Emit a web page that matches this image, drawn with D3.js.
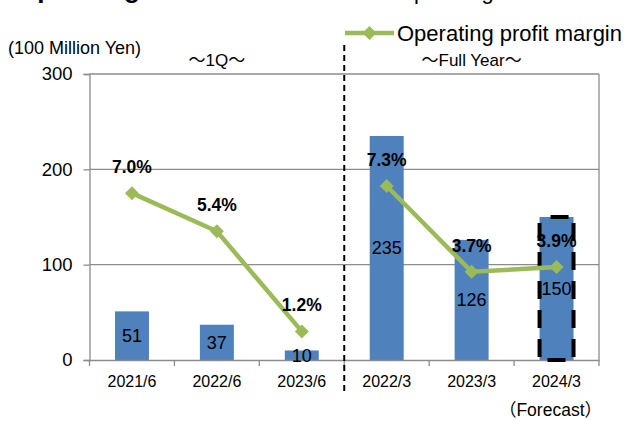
<!DOCTYPE html>
<html>
<head>
<meta charset="utf-8">
<script src="https://cdn.jsdelivr.net/npm/d3@7"></script>
<style>
  body { margin: 0; background: #fff; }
  svg { display: block; font-family: "Liberation Sans", Arial, "Noto Sans CJK JP", sans-serif; }
  .axis path, .axis line { stroke: #8c8c8c; }
  .axis text { fill: #000; }
</style>
</head>
<body>
<div id="app"></div>
<script>
'use strict'

// chart values
const categories = ['2021/6', '2022/6', '2023/6', '2022/3', '2023/3', '2024/3'];
const periods = ['1Q', '1Q', '1Q', 'FY', 'FY', 'FY'];
const income = [51, 37, 10, 235, 126, 150];
const margin = [7.0, 5.4, 1.2, 7.3, 3.7, 3.9];
const forecast = [false, false, false, false, false, true];
const yTicks = [0, 100, 200, 300];
const periodLabels = {'1Q': '～1Q～', 'FY': '～Full Year～'};

const width = 624, height = 421;
const plotL = 89.5, plotR = 599, plotT = 74, plotB = 360;
const blue = '#4f81bd', green = '#9bbb59';

let svg = d3.select('#app')
  .append('svg')
    .attr('width', width)
    .attr('height', height);

let x = d3.scaleBand()
  .domain(categories)
  .range([plotL, plotR])
  .paddingInner(0.6)
  .paddingOuter(0.3);
let y = d3.scaleLinear().domain([0, 300]).range([plotB, plotT]);
let yPct = d3.scaleLinear().domain([0, 12]).range([plotB, plotT]);
let step = x.step();
let cx = (c) => x(c) + x.bandwidth() / 2;

let rows = categories.map((c, i) => ({
  cat: c, period: periods[i], income: income[i], margin: margin[i], forecast: forecast[i]
}));

// titles cut off at the top edge (only descenders show in the reference)
svg.append('text')
  .attr('x', 17).attr('y', -2)
  .attr('style', 'font-size: 26px; font-weight: bold')
  .text('Operating Income');
svg.append('text')
  .attr('x', 397).attr('y', -1.5)
  .attr('style', 'font-size: 22px')
  .text('Operating income');

// gridlines
svg.append('g')
  .selectAll('line')
  .data(yTicks.filter((t) => t > 0))
  .enter()
    .append('line')
      .attr('x1', plotL).attr('x2', plotR)
      .attr('y1', (d) => y(d)).attr('y2', (d) => y(d))
      .attr('stroke', '#8c8c8c').attr('stroke-width', 1.3);
svg.append('line')
  .attr('x1', plotR).attr('x2', plotR)
  .attr('y1', plotT).attr('y2', plotB)
  .attr('stroke', '#8c8c8c').attr('stroke-width', 1.3);

// bars
svg.append('g')
  .selectAll('rect')
  .data(rows)
  .enter()
    .append('rect')
      .attr('x', (d) => x(d.cat))
      .attr('y', (d) => y(d.income))
      .attr('width', x.bandwidth())
      .attr('height', (d) => y(0) - y(d.income))
      .attr('fill', blue);

// y axis
let yAxis = svg.append('g')
  .attr('class', 'axis')
  .attr('transform', `translate(${plotL},0)`)
  .call(d3.axisLeft(y).tickValues(yTicks).tickSize(6).tickPadding(11));
yAxis.selectAll('text').attr('style', 'font-size: 18.5px');
yAxis.selectAll('path, line').attr('stroke-width', 1.3);

// x axis
let xAxis = svg.append('g')
  .attr('class', 'axis')
  .attr('transform', `translate(0,${plotB})`)
  .call(d3.axisBottom(x).tickSize(0).tickPadding(15.5));
xAxis.selectAll('text').attr('style', 'font-size: 16px');
xAxis.select('path').attr('stroke-width', 1.3);
let bounds = categories.map((c) => x(c) - step * 0.3).concat([plotR]);
xAxis.selectAll('.bound')
  .data(bounds)
  .enter()
    .append('line')
      .attr('class', 'bound')
      .attr('x1', (d) => d).attr('x2', (d) => d)
      .attr('y1', 0).attr('y2', 6)
      .attr('stroke', '#8c8c8c').attr('stroke-width', 1.3);

// forecast box
svg.append('g')
  .selectAll('rect')
  .data(rows.filter((d) => d.forecast))
  .enter()
    .append('rect')
      .attr('x', (d) => x(d.cat))
      .attr('y', (d) => y(d.income))
      .attr('width', x.bandwidth())
      .attr('height', (d) => y(0) - y(d.income))
      .attr('fill', 'none')
      .attr('stroke', '#000')
      .attr('stroke-width', 4)
      .attr('stroke-dasharray', '18,11')
      .attr('stroke-dashoffset', 18);

// bar value labels
svg.append('g')
  .selectAll('text')
  .data(rows)
  .enter()
    .append('text')
      .attr('x', (d) => cx(d.cat))
      .attr('y', (d) => (y(d.income) + y(0)) / 2)
      .attr('dy', '0.35em')
      .attr('text-anchor', 'middle')
      .attr('style', 'font-size: 18px')
      .text((d) => d.income);

// divider between 1Q and full year
let splitX = x(categories[periods.indexOf('FY')]) - step * 0.3;
svg.append('line')
  .attr('x1', splitX).attr('x2', splitX)
  .attr('y1', 45).attr('y2', 393)
  .attr('stroke', '#000')
  .attr('stroke-width', 2)
  .attr('stroke-dasharray', '6,4');

// margin line, one segment per period
let line = d3.line()
  .x((d) => cx(d.cat))
  .y((d) => yPct(d.margin));
let groups = d3.groups(rows, (d) => d.period);
svg.append('g')
  .selectAll('path')
  .data(groups)
  .enter()
    .append('path')
      .attr('d', (g) => line(g[1]))
      .attr('fill', 'none')
      .attr('stroke', green)
      .attr('stroke-width', 4.5);

let diamond = 'M0,-7L7,0L0,7L-7,0Z';
svg.append('g')
  .selectAll('path')
  .data(rows)
  .enter()
    .append('path')
      .attr('d', diamond)
      .attr('transform', (d) => `translate(${cx(d.cat)},${yPct(d.margin)})`)
      .attr('fill', green);

svg.append('g')
  .selectAll('text')
  .data(rows)
  .enter()
    .append('text')
      .attr('x', (d) => cx(d.cat))
      .attr('y', (d) => yPct(d.margin) - 20)
      .attr('text-anchor', 'middle')
      .attr('style', 'font-size: 17.5px; font-weight: bold')
      .text((d) => `${d.margin.toFixed(1)}%`);

// period labels
groups.forEach(([p, g]) => {
  let x0 = x(g[0].cat) - step * 0.3;
  let x1 = x(g[g.length - 1].cat) + x.bandwidth() + step * 0.3;
  svg.append('text')
    .attr('x', (x0 + x1) / 2)
    .attr('y', 66)
    .attr('text-anchor', 'middle')
    .attr('style', 'font-size: 17px')
    .text(periodLabels[p]);
});

// unit label
svg.append('text')
  .attr('x', 8).attr('y', 54)
  .attr('style', 'font-size: 18px')
  .text('(100 Million Yen)');

// legend
let legend = svg.append('g').attr('transform', 'translate(345,33)');
legend.append('line')
  .attr('x1', 0).attr('x2', 49)
  .attr('stroke', green).attr('stroke-width', 4.5);
legend.append('path')
  .attr('d', diamond)
  .attr('transform', 'translate(24.5,0)')
  .attr('fill', green);
legend.append('text')
  .attr('x', 52).attr('y', 8)
  .attr('style', 'font-size: 22px')
  .text('Operating profit margin');

// forecast note
svg.append('text')
  .attr('x', 602).attr('y', 416)
  .attr('text-anchor', 'end')
  .attr('style', 'font-size: 17.5px')
  .text('（Forecast）');
</script>
</body>
</html>
